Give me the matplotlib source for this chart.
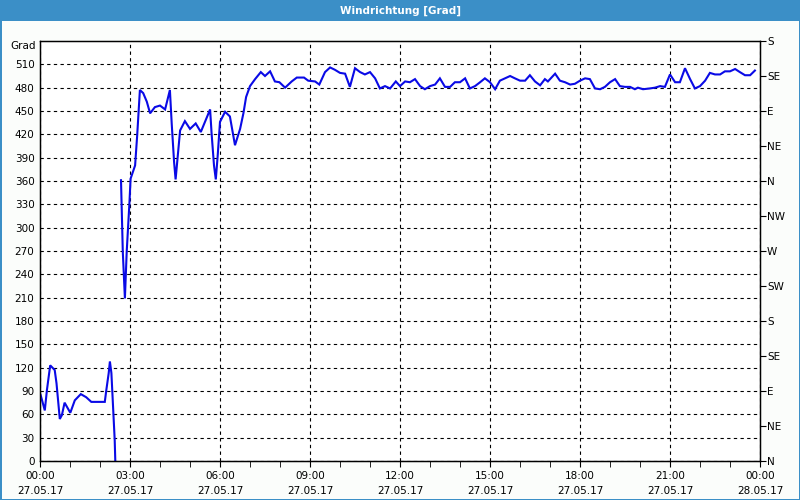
import numpy as np
import matplotlib
matplotlib.use("Agg")
import matplotlib.pyplot as plt
from matplotlib.patches import Rectangle

# hours since 27.05.17 00:00 and wind direction in degrees (unwrapped, NaN = break)
hours = [0.02, 0.16, 0.23, 0.34, 0.49, 0.55, 0.66, 0.73, 0.82, 1.01, 1.16, 1.36, 1.54,
         1.71, 2.16, 2.21, 2.29, 2.33, 2.38, 2.44, 2.49, 2.51,
         2.60,
         2.70, 2.72, 2.76, 2.83, 2.89, 2.98, 3.02, 3.17, 3.24, 3.33, 3.44, 3.56, 3.67,
         3.83, 4.00, 4.17, 4.33, 4.39, 4.47, 4.52, 4.58, 4.67, 4.83, 5.00, 5.19, 5.36,
         5.50, 5.67, 5.72, 5.80, 5.86, 5.92, 6.00, 6.17, 6.33, 6.50, 6.67, 6.78, 6.87,
         7.00, 7.17, 7.36, 7.50, 7.67, 7.83, 7.98, 8.17, 8.39, 8.56, 8.80, 8.94, 9.17,
         9.31, 9.50, 9.67, 9.83, 10.00, 10.17, 10.33, 10.50, 10.67, 10.83, 11.00, 11.17,
         11.33, 11.50, 11.67, 11.86, 12.00, 12.17, 12.33, 12.50, 12.67, 12.83, 13.00,
         13.17, 13.33, 13.50, 13.67, 13.83, 14.00, 14.17, 14.33, 14.50, 14.67, 14.83,
         15.00, 15.17, 15.33, 15.50, 15.67, 15.83, 16.00, 16.17, 16.33, 16.50, 16.67,
         16.83, 16.93, 17.17, 17.33, 17.50, 17.67, 17.83, 18.00, 18.17, 18.33, 18.50,
         18.67, 18.83, 19.00, 19.17, 19.33, 19.50, 19.67, 19.83, 19.93, 20.10, 20.33,
         20.50, 20.67, 20.83, 21.00, 21.17, 21.33, 21.50, 21.67, 21.83, 22.00, 22.17,
         22.33, 22.50, 22.67, 22.83, 23.00, 23.17, 23.33, 23.50, 23.67, 23.83]
direction = [85, 65, 91, 123, 117, 100, 54, 59, 75, 62, 78, 86, 82,
             76, 76, 91, 113, 128, 113, 65, 27, 0,
             np.nan,
             361, 331, 269, 209, 269, 331, 363, 380, 419, 477, 473, 462, 447,
             455, 457, 452, 477, 434, 384, 362, 387, 425, 437, 427, 434, 423,
             436, 452, 421, 380, 362, 391, 436, 449, 443, 406, 427, 447, 468,
             482, 491, 500, 495, 501, 488, 487, 480, 488, 493, 493, 489, 488,
             484, 500, 506, 503, 499, 498, 481, 505, 500, 497, 500, 492,
             479, 482, 479, 488, 482, 488, 487, 491, 482, 478, 482,
             484, 492, 481, 481, 487, 487, 492, 479, 482, 487, 492,
             487, 478, 489, 492, 495, 492, 489, 489, 496, 488, 483,
             491, 488, 498, 489, 487, 484, 485, 489, 492, 491, 479,
             478, 481, 487, 491, 482, 481, 481, 478, 480, 478, 479,
             480, 482, 481, 497, 487, 487, 505, 491, 479, 482, 489,
             499, 497, 497, 501, 501, 504, 500, 496, 496, 502]

left_ticks = list(range(0, 511, 30))
compass_ticks = list(range(0, 541, 45))
compass_labels = ["N", "NE", "E", "SE", "S", "SW", "W", "NW", "N", "NE", "E", "SE", "S"]
x_ticks = list(range(0, 25, 3))
x_labels = ["00:00\n27.05.17", "03:00\n27.05.17", "06:00\n27.05.17", "09:00\n27.05.17",
            "12:00\n27.05.17", "15:00\n27.05.17", "18:00\n27.05.17", "21:00\n27.05.17",
            "00:00\n28.05.17"]

plt.rcParams['font.family'] = ['DejaVu Sans']
fs = 7.5
fig = plt.figure(figsize=(8, 5), dpi=100, facecolor="#fbfdfb")

# window title bar and frame
blue = "#3b8fc7"
fig.patches.append(Rectangle((0, 1 - 21 / 500), 1, 21 / 500, transform=fig.transFigure,
                             facecolor=blue, edgecolor="none", zorder=0))
for r in [(0, 0, 1.5 / 800, 1), (1 - 1.5 / 800, 0, 1.5 / 800, 1), (0, 0, 1, 1.5 / 500)]:
    fig.patches.append(Rectangle(r[:2], r[2], r[3], transform=fig.transFigure,
                                 facecolor=blue, edgecolor="none"))
fig.text(0.5, 1 - 10.5 / 500, "Windrichtung [Grad]", color="white", fontsize=7.5,
         fontweight="bold", ha="center", va="center")

ax = fig.add_axes([40 / 800, 39 / 500, 720 / 800, 420 / 500])
ax.set_facecolor("white")
ax.plot(hours, direction, color="#0a0ae6", lw=1.5, solid_joinstyle="miter")

ax.set_xlim(0, 24)
ax.set_ylim(0, 540)
ax.set_yticks(left_ticks)
ax.set_xticks(x_ticks)
ax.set_xticklabels(x_labels, fontsize=fs, linespacing=1.7)
ax.set_xticks(range(0, 25), minor=True)
ax.tick_params(axis="y", length=0, labelsize=fs, pad=4)
ax.tick_params(axis="x", which="both", length=4, direction="out", pad=3)
ax.grid(True, color="black", linestyle=(0, (3, 3)), lw=0.8)
for s in ax.spines.values():
    s.set_linewidth(1)
    s.set_color("black")

ax.text(-4 / 720, 1.0 - 5 / 420, "Grad", transform=ax.transAxes, ha="right", va="center",
        fontsize=fs)

ax2 = ax.twinx()
ax2.set_ylim(0, 540)
ax2.set_yticks(compass_ticks)
ax2.set_yticklabels(compass_labels, fontsize=fs)
ax2.tick_params(axis="y", length=4, direction="out", pad=1)

fig.savefig("out.png", dpi=100, facecolor=fig.get_facecolor())
